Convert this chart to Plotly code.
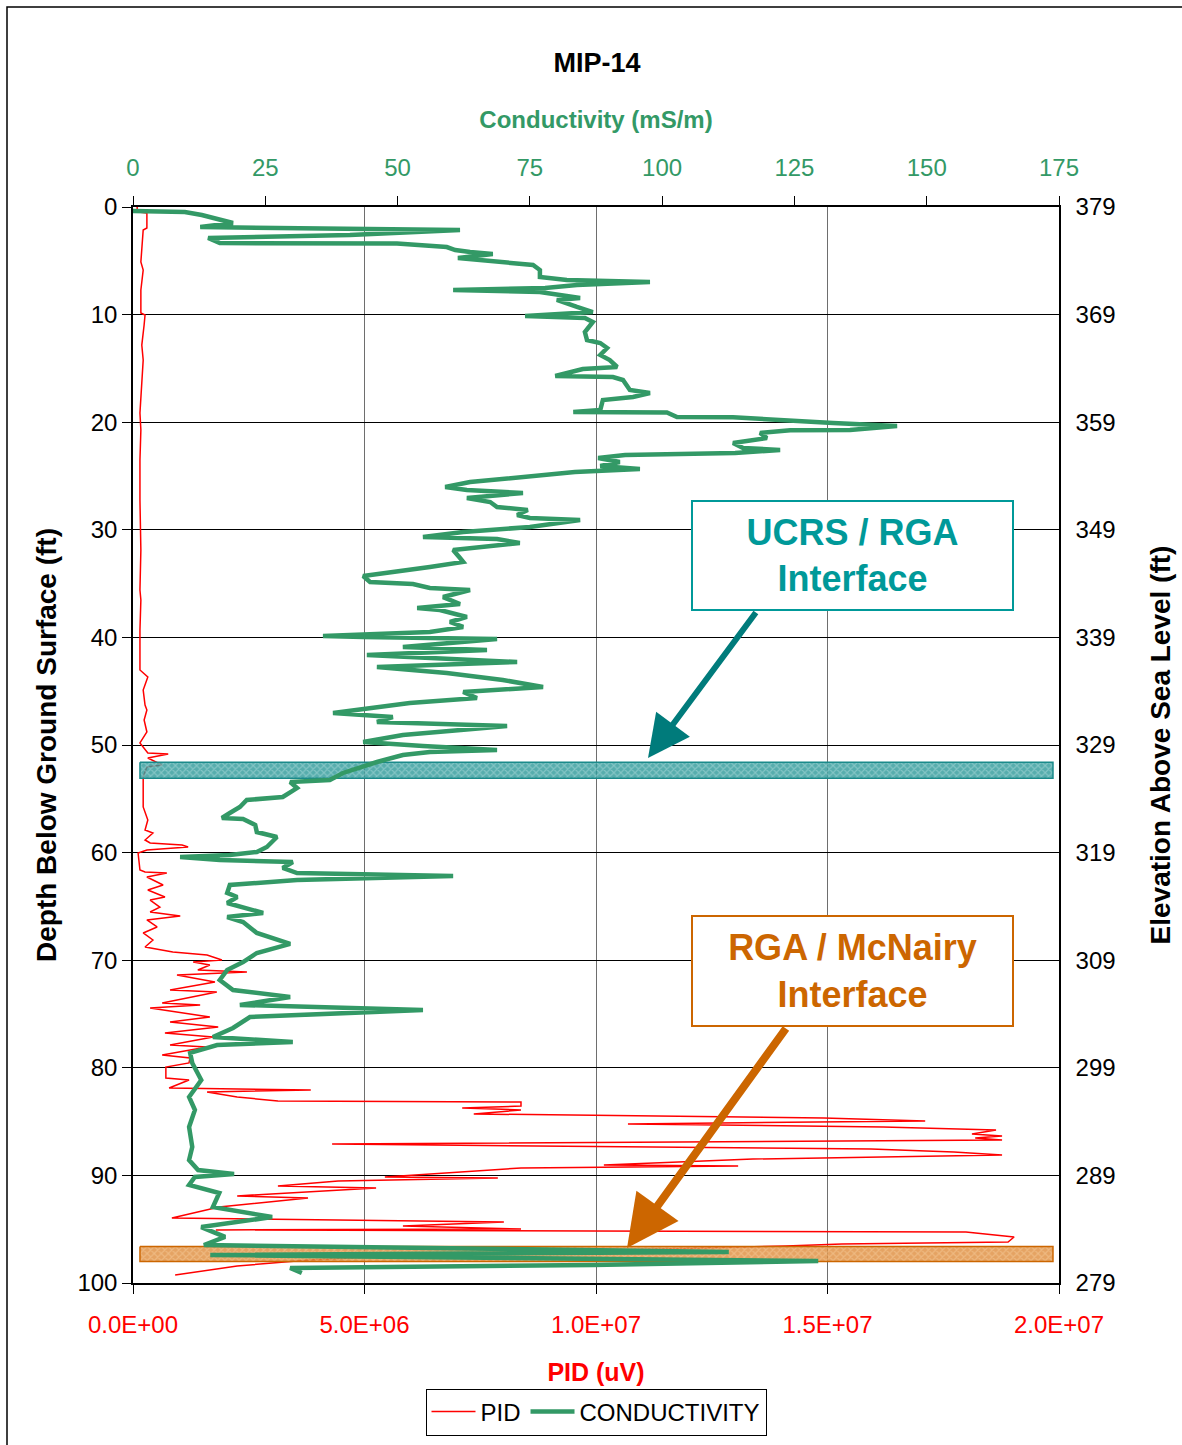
import plotly.graph_objects as go

# ---------------- data ----------------
pid_depth = [0.0, 0.46, 0.56, 1.95, 2.14, 4.0, 5.11, 5.86, 7.71, 9.85, 10.04, 10.97, 12.83, 14.22,
             16.08, 17.94, 19.14, 20.72, 23.51, 27.23, 31.88, 35.59, 36.52, 39.31, 43.03, 43.68,
             44.89, 46.28, 46.75, 47.68, 48.79, 49.81, 50.74, 50.84, 51.21, 51.86, 52.04, 52.97,
             55.76, 56.97, 57.9, 58.18, 58.83, 59.11, 59.29, 59.48, 59.76, 60.04, 61.62, 61.8,
             61.9, 62.27, 63.01, 63.48, 64.13, 64.41, 65.06, 65.52, 65.89, 66.26, 66.91, 67.47,
             68.12, 68.77, 69.24, 69.52, 69.98, 70.17, 70.45, 70.91, 71.1, 71.38, 72.03, 72.77,
             72.96, 73.98, 74.16, 74.44, 75.28, 75.74, 76.21, 76.77, 77.14, 77.88, 78.07, 78.81,
             79.09, 79.55, 79.93, 80.95, 81.13, 81.88, 82.06, 82.25, 82.71, 83.09, 83.18, 83.55,
             83.74, 83.92, 84.29, 84.67, 84.94, 85.22, 85.5, 85.78, 86.15, 86.34, 86.52, 86.71,
             87.08, 87.36, 87.55, 87.83, 88.1, 88.48, 89.03, 89.13, 89.31, 90.15, 90.24, 90.52,
             90.99, 91.17, 91.91, 92.1, 92.94, 93.96, 94.33, 94.7, 94.98, 95.07, 95.26, 95.72,
             96.19, 96.38, 96.56, 97.03, 97.49, 97.86, 98.42, 99.26]
pid_uv = [0.09e6, 0.09e6, 0.30e6, 0.30e6, 0.22e6, 0.19e6, 0.17e6, 0.22e6, 0.17e6, 0.17e6, 0.26e6,
          0.24e6, 0.19e6, 0.22e6, 0.19e6, 0.17e6, 0.15e6, 0.17e6, 0.15e6, 0.15e6, 0.17e6, 0.15e6,
          0.17e6, 0.15e6, 0.15e6, 0.32e6, 0.22e6, 0.26e6, 0.30e6, 0.24e6, 0.30e6, 0.15e6, 0.32e6,
          0.76e6, 0.32e6, 0.63e6, 0.30e6, 0.22e6, 0.22e6, 0.32e6, 0.26e6, 0.43e6, 0.26e6, 0.37e6,
          1.06e6, 1.19e6, 0.30e6, 0.11e6, 0.15e6, 0.26e6, 0.73e6, 0.30e6, 0.65e6, 0.32e6, 0.69e6,
          0.37e6, 0.58e6, 0.37e6, 1.02e6, 0.30e6, 0.52e6, 0.22e6, 0.43e6, 0.26e6, 0.86e6, 1.60e6,
          1.92e6, 1.30e6, 1.66e6, 1.40e6, 2.46e6, 0.95e6, 1.77e6, 0.80e6, 1.81e6, 0.63e6, 1.45e6,
          0.37e6, 1.66e6, 0.80e6, 1.84e6, 0.69e6, 1.73e6, 0.80e6, 1.60e6, 0.63e6, 1.23e6, 1.21e6,
          0.71e6, 0.71e6, 1.21e6, 0.78e6, 3.84e6, 1.60e6, 2.25e6, 3.13e6, 8.38e6, 8.38e6, 7.11e6,
          8.38e6, 7.36e6, 14.92e6, 17.11e6, 10.69e6, 16.20e6, 18.64e6, 18.12e6, 18.77e6, 18.19e6,
          18.77e6, 4.30e6, 11.21e6, 15.94e6, 17.73e6, 18.77e6, 13.39e6, 10.17e6, 13.07e6, 8.38e6,
          5.44e6, 7.88e6, 4.43e6, 3.13e6, 5.25e6, 2.25e6, 3.78e6, 1.86e6, 0.84e6, 8.01e6, 5.83e6,
          8.38e6, 1.79e6, 17.99e6, 19.03e6, 18.90e6, 15.31e6, 14.10e6, 9.57e6, 5.72e6, 3.80e6,
          2.25e6, 0.91e6]

cond_depth = [0.37, 0.46, 0.74, 1.49, 1.86, 2.14, 2.6, 2.88, 3.35, 3.4, 3.72, 4.0, 4.18, 4.37, 4.74,
              4.93, 5.2, 5.39, 5.86, 6.51, 6.78, 6.97, 7.25, 7.53, 7.71, 7.9, 8.46, 8.64, 9.29, 9.76,
              10.13, 10.32, 10.69, 11.62, 12.36, 12.64, 13.1, 13.75, 14.22, 14.87, 15.06, 15.71,
              15.8, 16.08, 17.0, 17.29, 17.66, 17.94, 18.87, 19.05, 19.1, 19.52, 19.55, 19.8, 20.07,
              20.35, 20.72, 20.75, 21.0, 21.47, 21.93, 22.4, 22.58, 22.86, 23.05, 23.33, 23.7,
              24.07, 24.35, 24.63, 24.91, 25.56, 26.02, 26.3, 26.58, 27.04, 27.42, 27.88, 28.16,
              28.62, 28.9, 29.09, 29.74, 30.2, 30.67, 30.86, 31.23, 31.6, 31.88, 32.62, 32.99,
              33.46, 33.83, 34.29, 34.85, 35.04, 35.41, 35.59, 36.25, 36.9, 37.27, 37.45, 38.1,
              38.57, 39.03, 39.5, 39.87, 39.96, 40.15, 40.89, 41.17, 41.64, 42.29, 42.75, 43.31,
              43.96, 44.61, 45.07, 45.63, 46.1, 47.03, 47.4, 47.86, 48.23, 49.07, 49.72, 50.09,
              50.46, 50.65, 50.93, 51.58, 52.14, 52.6, 53.25, 53.44, 54.0, 54.83, 55.11, 55.76,
              56.32, 56.78, 56.88, 57.43, 58.09, 58.55, 59.48, 59.94, 60.22, 60.41, 60.69, 60.87,
              61.43, 61.9, 62.17, 62.55, 63.01, 63.75, 64.13, 64.68, 65.61, 65.99, 66.45, 67.47,
              68.49, 69.33, 70.17, 70.91, 71.84, 72.77, 73.42, 74.16, 74.63, 75.28, 76.3, 77.14,
              77.6, 77.88, 78.62, 79.55, 81.13, 82.71, 83.92, 85.5, 87.36, 88.57, 89.5, 89.87,
              90.15, 90.89, 91.64, 92.94, 93.87, 94.8, 95.72, 96.47, 97.12, 97.4, 97.96, 98.33,
              98.61, 99.07]
cond_ms_m = [0, 9.8, 13.0, 18.9, 12.7, 61.8, 41.0, 14.2, 16.4, 49.9, 59.3, 60.9, 63.7, 68.0, 61.4,
             66.1, 72.6, 75.6, 76.9, 76.9, 82.0, 97.7, 83.9, 77.9, 60.5, 76.9, 84.5, 80.1, 83.9,
             86.9, 74.1, 85.4, 86.9, 85.4, 85.8, 88.3, 89.6, 88.3, 90.1, 91.5, 85.0, 79.8, 90.7,
             92.6, 93.9, 97.7, 94.5, 88.8, 88.3, 83.2, 100.9, 102.8, 113.4, 124.7, 132.3, 144.4,
             135.5, 124.2, 118.5, 119.8, 113.4, 115.3, 122.3, 113.8, 93.0, 87.9, 92.0, 88.3, 95.8,
             83.5, 76.9, 63.7, 59.0, 63.1, 73.7, 63.1, 67.5, 68.8, 74.6, 72.6, 75.0, 84.5, 75.0,
             62.4, 54.8, 68.8, 73.1, 65.6, 60.5, 61.8, 62.4, 56.1, 49.9, 43.5, 44.8, 52.9, 56.1,
             63.7, 58.6, 61.8, 53.7, 58.0, 63.1, 59.9, 62.4, 56.1, 35.9, 43.5, 68.8, 51.0, 66.9,
             44.2, 72.6, 46.1, 59.3, 69.9, 77.5, 62.4, 65.0, 52.3, 37.8, 49.1, 46.1, 70.7, 51.0,
             43.5, 54.8, 68.8, 56.1, 51.0, 46.1, 42.3, 39.7, 37.2, 29.7, 31.0, 28.3, 21.5, 20.2,
             18.3, 16.8, 20.8, 23.1, 23.4, 27.2, 25.3, 23.4, 18.3, 8.9, 16.4, 30.2, 28.3, 31.0,
             60.5, 31.0, 18.3, 17.8, 19.7, 17.8, 24.6, 17.8, 20.8, 23.4, 29.7, 23.4, 20.8, 17.8,
             16.4, 18.9, 29.7, 20.2, 54.8, 22.1, 18.9, 15.1, 30.2, 15.9, 10.8, 11.2, 12.9, 10.6,
             11.7, 10.6, 11.2, 10.6, 12.3, 19.1, 11.7, 10.6, 16.3, 15.1, 26.3, 12.9, 17.4, 13.4,
             112.6, 14.6, 129.5, 86.9, 29.7, 31.9]

depth_ticks = list(range(0, 101, 10))
elev_ticks = list(range(279, 380, 10))
elev_range = [279, 379]
pid_ticks = [0, 5e6, 1e7, 1.5e7, 2e7]
pid_ticktext = ["0.0E+00", "5.0E+06", "1.0E+07", "1.5E+07", "2.0E+07"]
cond_ticks = [0, 25, 50, 75, 100, 125, 150, 175]

interface_labels = ["UCRS / RGA<br>Interface", "RGA / McNairy<br>Interface"]
interface_top = [51.6, 96.6]
interface_bottom = [53.1, 98.0]
interface_pid_extent = [1.5e5, 1.987e7]

# ---------------- styling ----------------
FONT = "Arial, 'Liberation Sans', sans-serif"
RED = "#FF0000"
GREEN = "#339966"
TEAL = "#009999"
ORANGE = "#CC6600"

W, H = 1182, 1445
ML, MR, MT, MB = 133, 123, 207, 162
PW, PH = W - ML - MR, H - MT - MB


def pxx(x):
    return (x - ML) / PW


def pyy(y):
    return 1 - (y - MT) / PH


fig = go.Figure()

fig.add_trace(go.Scatter(x=pid_uv, y=pid_depth, mode="lines", name="PID",
                         line=dict(color=RED, width=1.5), xaxis="x", yaxis="y"))
fig.add_trace(go.Scatter(x=cond_ms_m, y=cond_depth, mode="lines", name="CONDUCTIVITY",
                         line=dict(color=GREEN, width=4.5), xaxis="x2", yaxis="y"))

band_styles = [
    dict(line="#1a8a8a", bg="rgba(50,155,155,0.82)", fg="rgba(190,228,228,0.85)"),
    dict(line=ORANGE, bg="rgba(222,140,60,0.80)", fg="rgba(250,215,170,0.85)"),
]
for top, bot, st in zip(interface_top, interface_bottom, band_styles):
    x0, x1 = interface_pid_extent
    fig.add_trace(go.Scatter(
        x=[x0, x1, x1, x0, x0], y=[top, top, bot, bot, top], mode="lines",
        fill="toself", fillcolor=st["bg"],
        fillpattern=dict(shape="x", size=5, solidity=0.4, fgcolor=st["fg"], bgcolor=st["bg"]),
        line=dict(color=st["line"], width=1.5), showlegend=False, hoverinfo="skip",
        xaxis="x", yaxis="y"))

# invisible trace so the elevation axis is drawn
fig.add_trace(go.Scatter(x=[0, 0], y=elev_range, mode="markers", opacity=0,
                         showlegend=False, hoverinfo="skip", xaxis="x", yaxis="y2"))

tickfont = dict(family=FONT, size=24, color="black")

fig.update_layout(
    width=W, height=H,
    margin=dict(l=ML, r=MR, t=MT, b=MB, autoexpand=False),
    paper_bgcolor="white", plot_bgcolor="white",
    font=dict(family=FONT),
    title=dict(text="<b>MIP-14</b>", x=pxx(597), xref="paper", xanchor="center",
               y=1 - 63 / H, yref="container", yanchor="middle",
               font=dict(family=FONT, size=27, color="black")),
    xaxis=dict(range=[0, 2e7], tickvals=pid_ticks, ticktext=pid_ticktext,
               tickfont=dict(family=FONT, size=24, color=RED),
               ticks="outside", ticklen=9, tickcolor="black", ticklabelstandoff=10,
               showline=True, linecolor="black", linewidth=1.5,
               showgrid=True, gridcolor="#6e6e6e", gridwidth=1, zeroline=False,
               title=dict(text="<b>PID (uV)</b>", font=dict(family=FONT, size=25, color=RED),
                          standoff=27),
               automargin=False),
    xaxis2=dict(range=[0, 175], tickvals=cond_ticks, overlaying="x", side="top",
                tickfont=dict(family=FONT, size=24, color=GREEN),
                ticks="outside", ticklen=9, tickcolor="black", ticklabelstandoff=11,
                showline=True, linecolor="black", linewidth=1.5,
                showgrid=False, zeroline=False,
                title=dict(text="<b>Conductivity (mS/m)</b>",
                           font=dict(family=FONT, size=24, color=GREEN), standoff=18),
                automargin=False),
    yaxis=dict(range=[100, 0], tickvals=depth_ticks, tickfont=tickfont,
               ticks="outside", ticklen=9, tickcolor="black", ticklabelstandoff=0,
               showline=True, linecolor="black", linewidth=1.5,
               showgrid=True, gridcolor="black", gridwidth=1, zeroline=False,
               title=dict(text="<b>Depth Below Ground Surface (ft)</b>",
                          font=dict(family=FONT, size=28, color="black"), standoff=13),
               automargin=False),
    yaxis2=dict(range=elev_range, tickvals=elev_ticks, overlaying="y", side="right",
                tickfont=tickfont, ticks="", ticklabelstandoff=10,
                showline=True, linecolor="black", linewidth=1.5,
                showgrid=False, zeroline=False,
                title=dict(text="<b>Elevation Above Sea Level (ft)</b>",
                           font=dict(family=FONT, size=28, color="black"), standoff=36),
                automargin=False),
    legend=dict(orientation="h", x=pxx(596), xanchor="center", y=pyy(1412), yanchor="middle",
                bordercolor="black", borderwidth=1, bgcolor="white",
                font=dict(family=FONT, size=24, color="black"),
                itemwidth=44, tracegroupgap=0),
    showlegend=True,
)

# outer frame
fig.add_shape(type="rect", xref="paper", yref="paper",
              x0=pxx(7), x1=pxx(1200), y0=pyy(1460), y1=pyy(7),
              line=dict(color="black", width=1.5), fillcolor="rgba(0,0,0,0)", layer="below")

# callout boxes and arrows
boxes = [
    dict(cx=852, cy=555, w=319, h=107, color=TEAL, tip=(648, 758), tail=(757, 611), aw=6),
    dict(cx=852, cy=971, w=319, h=108, color=ORANGE, tip=(627, 1248), tail=(787, 1027), aw=8),
]
for lab, b in zip(interface_labels, boxes):
    fig.add_annotation(xref="paper", yref="paper", x=pxx(b["tip"][0]), y=pyy(b["tip"][1]),
                       ax=b["tail"][0] - b["tip"][0], ay=b["tail"][1] - b["tip"][1],
                       axref="pixel", ayref="pixel", text="", showarrow=True,
                       arrowhead=2, arrowsize=1.4 if b["aw"] == 6 else 1.3,
                       arrowwidth=b["aw"], arrowcolor="#007b7b" if b["color"] == TEAL else ORANGE)
    fig.add_annotation(xref="paper", yref="paper", x=pxx(b["cx"]), y=pyy(b["cy"]),
                       xanchor="center", yanchor="middle", text=f"<b>{lab}</b>",
                       showarrow=False, width=b["w"], height=b["h"], borderpad=0,
                       bordercolor=b["color"], borderwidth=2, bgcolor="white",
                       font=dict(family=FONT, size=36, color=b["color"]))

fig.write_html("out.html", config={"displayModeBar": False},
               post_script="document.body.style.margin='0';document.body.style.overflow='hidden';")
